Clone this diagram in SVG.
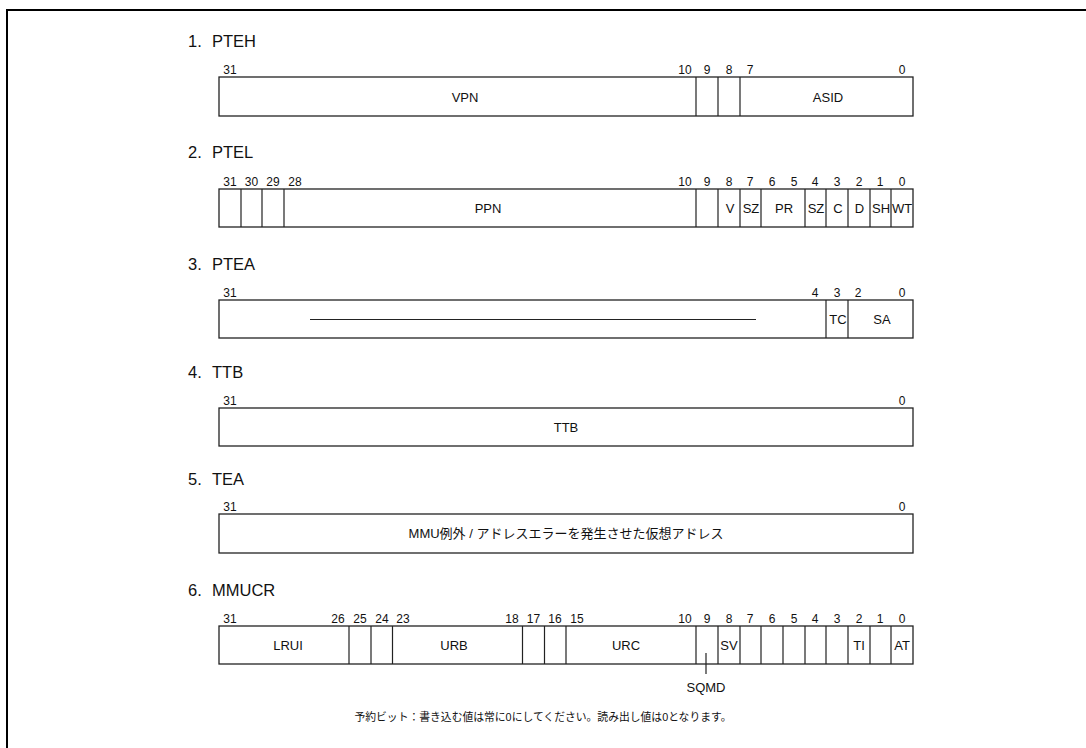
<svg xmlns="http://www.w3.org/2000/svg" width="1086" height="748" viewBox="0 0 1086 748">
<style>
text{font-family:"Liberation Sans","Noto Sans CJK JP",Arial,sans-serif;fill:#111}
.t{font-size:16.5px}
.n{font-size:12px;text-anchor:middle}
.f{font-size:13px;text-anchor:middle}
.box{fill:#fff;stroke:#222;stroke-width:1.3}
.d{stroke:#222;stroke-width:1.2;fill:none}
</style>
<rect width="1086" height="748" fill="#fff"/>
<path d="M7,748 V10 H1086" fill="none" stroke="#000" stroke-width="2"/>

<g id="pteh">
<text class="t" x="188" y="47">1.</text><text class="t" x="212" y="47">PTEH</text>
<rect class="box" x="219" y="77" width="694" height="39"/>
<path class="d" d="M696,77V116M718,77V116M740,77V116"/>
<text class="n" x="230" y="74">31</text><text class="n" x="685" y="74">10</text><text class="n" x="707" y="74">9</text><text class="n" x="729" y="74">8</text><text class="n" x="750" y="74">7</text><text class="n" x="902" y="74">0</text>
<text class="f" x="465" y="102">VPN</text><text class="f" x="828" y="102">ASID</text>
</g>

<g id="ptel">
<text class="t" x="188" y="158">2.</text><text class="t" x="212" y="158">PTEL</text>
<rect class="box" x="219" y="189" width="694" height="38"/>
<path class="d" d="M241,189V227M262,189V227M284,189V227M696,189V227M718,189V227M740,189V227M761,189V227M805,189V227M826,189V227M848,189V227M870,189V227M891,189V227"/>
<text class="n" x="230" y="186">31</text><text class="n" x="251.5" y="186">30</text><text class="n" x="273" y="186">29</text><text class="n" x="295" y="186">28</text>
<text class="n" x="685" y="186">10</text><text class="n" x="707" y="186">9</text><text class="n" x="729" y="186">8</text><text class="n" x="750" y="186">7</text><text class="n" x="772" y="186">6</text><text class="n" x="794" y="186">5</text><text class="n" x="815" y="186">4</text><text class="n" x="837" y="186">3</text><text class="n" x="859" y="186">2</text><text class="n" x="880" y="186">1</text><text class="n" x="902" y="186">0</text>
<text class="f" x="488" y="213">PPN</text><text class="f" x="730" y="213">V</text><text class="f" x="751" y="213">SZ</text><text class="f" x="784" y="213">PR</text><text class="f" x="816" y="213">SZ</text><text class="f" x="838" y="213">C</text><text class="f" x="859.5" y="213">D</text><text class="f" x="881" y="213">SH</text><text class="f" x="902" y="213">WT</text>
</g>

<g id="ptea">
<text class="t" x="188" y="270">3.</text><text class="t" x="212" y="270">PTEA</text>
<rect class="box" x="219" y="300" width="694" height="38"/>
<path class="d" d="M826,300V338M848,300V338"/>
<path class="d" d="M310,319.5H756"/>
<text class="n" x="230" y="297">31</text><text class="n" x="815" y="297">4</text><text class="n" x="837" y="297">3</text><text class="n" x="858" y="297">2</text><text class="n" x="902" y="297">0</text>
<text class="f" x="838" y="324">TC</text><text class="f" x="882" y="324">SA</text>
</g>

<g id="ttb">
<text class="t" x="188" y="378">4.</text><text class="t" x="212" y="378">TTB</text>
<rect class="box" x="219" y="408" width="694" height="38"/>
<text class="n" x="230" y="405">31</text><text class="n" x="902" y="405">0</text>
<text class="f" x="566" y="432">TTB</text>
</g>

<g id="tea">
<text class="t" x="188" y="485">5.</text><text class="t" x="212" y="485">TEA</text>
<rect class="box" x="219" y="514" width="694" height="39"/>
<text class="n" x="230" y="511">31</text><text class="n" x="902" y="511">0</text>
<text class="f" x="566" y="538">MMU例外 / アドレスエラーを発生させた仮想アドレス</text>
</g>

<g id="mmucr">
<text class="t" x="188" y="596">6.</text><text class="t" x="212" y="596">MMUCR</text>
<rect class="box" x="219" y="626" width="694" height="38"/>
<path class="d" d="M349,626V664M371,626V664M392.5,626V664M522.5,626V664M544.5,626V664M566,626V664M696,626V664M718,626V664M740,626V664M761,626V664M783,626V664M805,626V664M826,626V664M848,626V664M870,626V664M891,626V664"/>
<text class="n" x="230" y="623">31</text><text class="n" x="338" y="623">26</text><text class="n" x="360" y="623">25</text><text class="n" x="382" y="623">24</text><text class="n" x="403" y="623">23</text><text class="n" x="512" y="623">18</text><text class="n" x="533.5" y="623">17</text><text class="n" x="555" y="623">16</text><text class="n" x="577" y="623">15</text>
<text class="n" x="685" y="623">10</text><text class="n" x="707" y="623">9</text><text class="n" x="729" y="623">8</text><text class="n" x="750" y="623">7</text><text class="n" x="772" y="623">6</text><text class="n" x="794" y="623">5</text><text class="n" x="815" y="623">4</text><text class="n" x="837" y="623">3</text><text class="n" x="859" y="623">2</text><text class="n" x="880" y="623">1</text><text class="n" x="902" y="623">0</text>
<text class="f" x="288" y="650">LRUI</text><text class="f" x="454" y="650">URB</text><text class="f" x="626" y="650">URC</text><text class="f" x="729" y="650">SV</text><text class="f" x="859" y="650">TI</text><text class="f" x="902" y="650">AT</text>
</g>

<g id="connectors">
<path class="d" d="M706,653V674"/>
</g>
<g id="sqmd-label"><text class="f" x="706" y="692">SQMD</text></g>

<g id="note">
<text x="543" y="721" style="font-size:10.8px;text-anchor:middle">予約ビット：書き込む値は常に0にしてください。読み出し値は0となります。</text>
</g>
</svg>
